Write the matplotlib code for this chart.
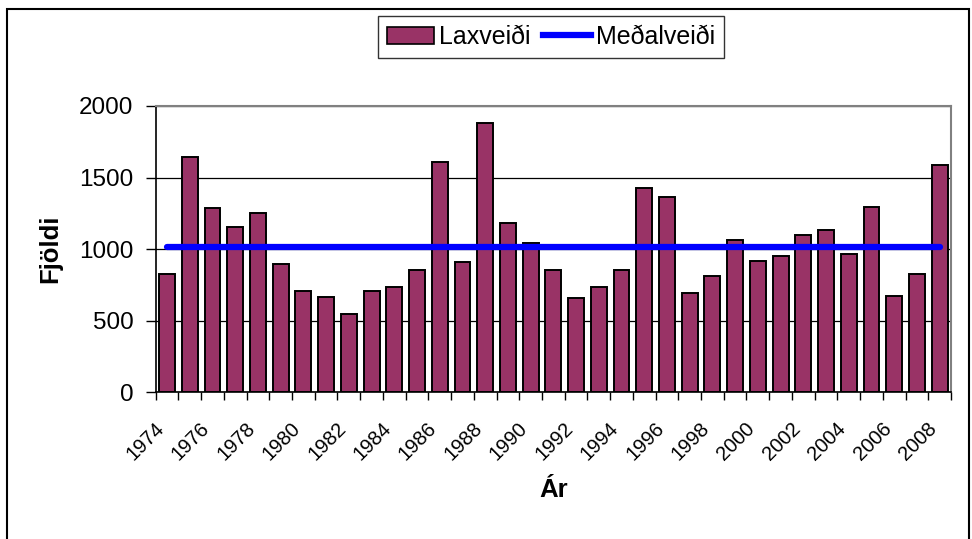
import matplotlib
matplotlib.use("Agg")
import matplotlib.pyplot as plt
from matplotlib.patches import Patch, Rectangle
from matplotlib.lines import Line2D

# Gögn
ar = list(range(1974, 2009))
laxveidi = [824, 1645, 1285, 1157, 1254, 894, 710, 668, 545, 710,
            737, 852, 1606, 908, 1883, 1184, 1045, 852, 656, 737,
            852, 1425, 1366, 696, 810, 1061, 919, 950, 1101, 1131,
            964, 1296, 670, 824, 1589]
medalveidi = 1018
y_ticks = [0, 500, 1000, 1500, 2000]

bar_color = "#993366"
line_color = "#0000FF"

plt.rcParams["font.family"] = ["Liberation Sans", "DejaVu Sans"]

fig = plt.figure(figsize=(9.72, 5.39), dpi=100)
ax = fig.add_axes([155.7 / 972, 1 - 392.3 / 539, 795.3 / 972, 286.3 / 539])

x = list(range(len(ar)))
ax.bar(x, laxveidi, width=0.7, color=bar_color, edgecolor="black",
       linewidth=1.4, zorder=2)
ax.plot(x, [medalveidi] * len(x), color=line_color, linewidth=4.5,
        solid_capstyle="round", zorder=3)

ax.set_xlim(-0.5, len(ar) - 0.5)
ax.set_ylim(0, 2000)
ax.set_yticks(y_ticks)
ax.set_yticklabels([str(v) for v in y_ticks], fontsize=17.5)
ax.yaxis.grid(True, color="black", linewidth=0.9, zorder=0)
ax.set_axisbelow(True)

# ticks between categories, labels on every second year
ax.set_xticks([i - 0.5 for i in range(len(ar) + 1)])
ax.set_xticklabels([])
ax.set_xticks([i - 0.26 for i in x[::2]], minor=True)
ax.set_xticklabels([str(a) for a in ar[::2]], minor=True, fontsize=14.5,
                   rotation=45, ha="right", va="center", rotation_mode="anchor")
ax.tick_params(axis="x", which="major", direction="out", length=6, width=1)
ax.tick_params(axis="x", which="minor", length=0, pad=24)
ax.tick_params(axis="y", direction="out", length=7, width=1, pad=9)

for side in ["top", "right"]:
    ax.spines[side].set_color("#808080")
    ax.spines[side].set_linewidth(1.5)
for side in ["left", "bottom"]:
    ax.spines[side].set_color("black")
    ax.spines[side].set_linewidth(1.2)

ax.set_ylabel("Fjöldi", fontsize=18.5, fontweight="bold")
ax.yaxis.set_label_coords(-0.133, 0.5)
ax.yaxis.label.set_va("center")
ax.set_xlabel("Ár", fontsize=18.5, fontweight="bold")
ax.xaxis.set_label_coords(0.5, -0.34)
ax.xaxis.label.set_va("center")

# legend
handles = [Patch(facecolor=bar_color, edgecolor="black", linewidth=1.2),
           Line2D([], [], color=line_color, linewidth=4.5)]
leg = fig.legend(handles, ["Laxveiði", "Meðalveiði"], ncol=2,
                 loc="center", bbox_to_anchor=(551 / 972, 1 - 37 / 539),
                 fontsize=18, frameon=True, fancybox=False,
                 handlelength=1.9, handletextpad=0.2, columnspacing=0.5,
                 borderpad=0.35, borderaxespad=0)
leg.get_frame().set_edgecolor("black")
leg.get_frame().set_linewidth(1.0)

# outer chart border
fig.patches.append(Rectangle((7 / 972, -0.05), 962 / 972, 1.05 - 9 / 539,
                             transform=fig.transFigure, fill=False,
                             edgecolor="black", linewidth=1.5))

fig.savefig("out.png", dpi=100)
plt.close(fig)
